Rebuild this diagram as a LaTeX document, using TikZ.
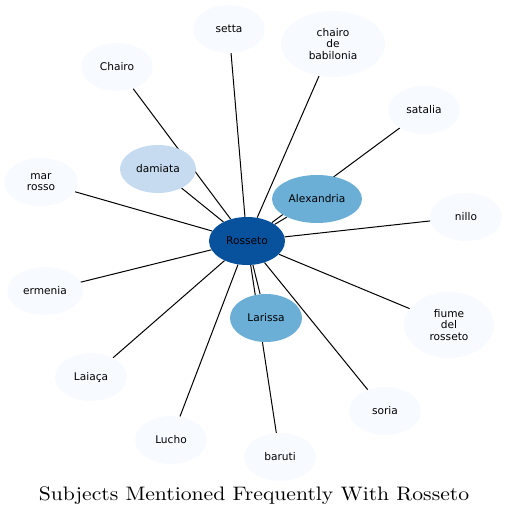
\documentclass[tikz,border=0pt]{standalone}
\usepackage{fontspec}
\setsansfont{DejaVu Sans}
\newfontfamily\titlefont[FakeStretch=1.11]{lmroman10-regular.otf}
\usetikzlibrary{shapes.geometric}
\pgfdeclarelayer{background}
\pgfsetlayers{background,main}
\definecolor{b1}{HTML}{F7FBFF}
\definecolor{b3}{HTML}{C6DBEF}
\definecolor{b5}{HTML}{6BAED6}
\definecolor{b8}{HTML}{08519C}
\tikzset{
  topic/.style={ellipse, draw=none, fill=b1, inner sep=0pt, minimum width=72pt, minimum height=48pt,
    font=\sffamily\fontsize{10.6}{11.6}\selectfont, align=center, text=black},
  bigtopic/.style={topic, minimum width=90pt, minimum height=66pt},
  link/.style={draw=black, line width=1pt},
}
\begin{document}
\begin{tikzpicture}[x=1pt,y=-1pt]
\useasboundingbox (0,0) rectangle (508,517);
\node[topic, fill=b8, minimum width=76pt] (ros) at (247,241) {Rosseto};
\node[topic, fill=b5, minimum width=90pt] (alex) at (317,199) {Alexandria};
\node[topic, fill=b5] (lar) at (266,318) {Larissa};
\node[topic, fill=b3, minimum width=76pt] (dam) at (158,169) {damiata};
\node[topic] (setta) at (229,29) {setta};
\node[bigtopic, minimum width=104pt] (chb) at (333,44) {chairo\\de\\babilonia};
\node[topic] (chairo) at (117,67) {Chairo};
\node[topic] (sat) at (424,110) {satalia};
\node[topic, minimum width=74pt] (mar) at (41,182) {mar\\rosso};
\node[topic] (nillo) at (466,217) {nillo};
\node[topic, minimum width=76pt] (erm) at (45,291) {ermenia};
\node[bigtopic] (fiume) at (449,325) {fiume\\del\\rosseto};
\node[topic] (laia) at (91,377) {Laiaça};
\node[topic] (soria) at (385,411) {soria};
\node[topic] (lucho) at (171,440) {Lucho};
\node[topic] (baruti) at (280,457) {baruti};
\node[font=\titlefont\fontsize{19.5}{23}\selectfont, anchor=base] (title) at (254,500.5) {Subjects Mentioned Frequently With Rosseto};
\begin{pgfonlayer}{background}
\foreach \t in {alex,lar,dam,setta,chb,chairo,sat,mar,nillo,erm,fiume,laia,soria,lucho,baruti}
  \draw[link] (ros) -- (\t);
\end{pgfonlayer}
\end{tikzpicture}
\end{document}
